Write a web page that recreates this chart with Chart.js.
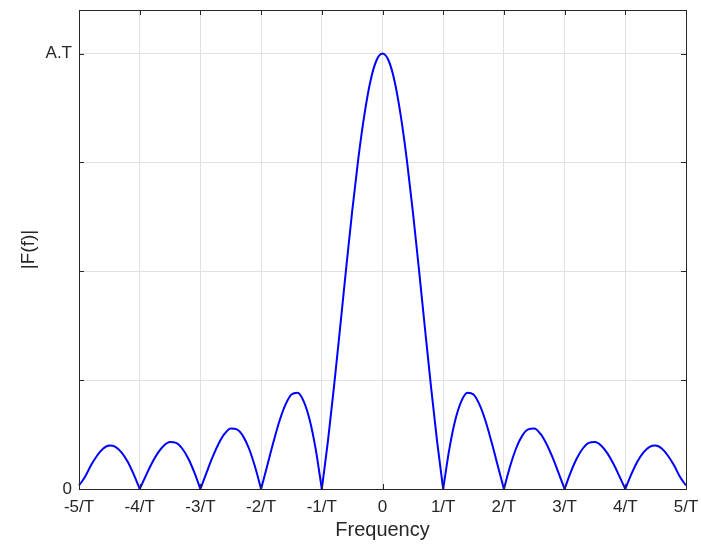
<!DOCTYPE html>
<html lang="en">
<head>
  <meta charset="UTF-8" />
  <title>|F(f)| spectrum</title>
  <script src="https://cdn.jsdelivr.net/npm/chart.js"></script>
  <style>
    html, body { margin: 0; padding: 0; background: #fff; }
    canvas { display: block; }
  </style>
</head>
<body>
  <canvas id="spectrumChart" width="701" height="551"></canvas>

  <script>
    // frequency in units of 1/T
    const freq = [
      -5.0, -4.9, -4.8, -4.7, -4.6, -4.5, -4.4, -4.3, -4.2, -4.1,
      -4.0, -3.9, -3.8, -3.7, -3.6, -3.5, -3.4, -3.3, -3.2, -3.1,
      -3.0, -2.9, -2.8, -2.7, -2.6, -2.5, -2.4, -2.3, -2.2, -2.1,
      -2.0, -1.9, -1.8, -1.7, -1.6, -1.5, -1.4, -1.3, -1.2, -1.1,
      -1.0, -0.9, -0.8, -0.7, -0.6, -0.5, -0.4, -0.3, -0.2, -0.1,
      0.0,
      0.1, 0.2, 0.3, 0.4, 0.5, 0.6, 0.7, 0.8, 0.9, 1.0,
      1.1, 1.2, 1.3, 1.4, 1.5, 1.6, 1.7, 1.8, 1.9, 2.0,
      2.1, 2.2, 2.3, 2.4, 2.5, 2.6, 2.7, 2.8, 2.9, 3.0,
      3.1, 3.2, 3.3, 3.4, 3.5, 3.6, 3.7, 3.8, 3.9, 4.0,
      4.1, 4.2, 4.3, 4.4, 4.5, 4.6, 4.7, 4.8, 4.9, 5.0
    ];

    // |F(f)| in units of A.T
    const magnitude = [
      0.008, 0.028, 0.055, 0.077, 0.093, 0.100, 0.097, 0.084, 0.063, 0.034,
      0.000, 0.030, 0.059, 0.083, 0.100, 0.108, 0.106, 0.093, 0.070, 0.038,
      0.000, 0.037, 0.073, 0.104, 0.127, 0.139, 0.137, 0.122, 0.093, 0.051,
      0.000, 0.053, 0.106, 0.155, 0.193, 0.217, 0.221, 0.202, 0.159, 0.091,
      0.000, 0.109, 0.234, 0.368, 0.505, 0.637, 0.757, 0.858, 0.936, 0.984,
      1.000,
      0.984, 0.936, 0.858, 0.757, 0.637, 0.505, 0.368, 0.234, 0.109, 0.000,
      0.091, 0.159, 0.202, 0.221, 0.217, 0.193, 0.155, 0.106, 0.053, 0.000,
      0.051, 0.093, 0.122, 0.137, 0.139, 0.127, 0.104, 0.073, 0.037, 0.000,
      0.038, 0.070, 0.093, 0.106, 0.108, 0.100, 0.083, 0.059, 0.030, 0.000,
      0.034, 0.063, 0.084, 0.097, 0.100, 0.093, 0.077, 0.055, 0.028, 0.008
    ];

    const xTicks = [-5, -4, -3, -2, -1, 0, 1, 2, 3, 4, 5];
    const yTicks = [0, 0.25, 0.5, 0.75, 1];
    const yTickLabels = { 0: "0", 1: "A.T" };

    const axisColor = "#262626";
    const fontFamily = "'Liberation Sans', Arial, sans-serif";

    // split the curve at its zeros so each lobe is smoothed on its own
    // and the cusps at n/T stay sharp
    const lobes = [];
    let current = [];
    freq.forEach((f, i) => {
      current.push({ x: f, y: magnitude[i] });
      if (magnitude[i] === 0 && current.length > 1) {
        lobes.push(current);
        current = [{ x: f, y: 0 }];
      }
    });
    if (current.length > 1) lobes.push(current);

    // MATLAB-style box with inward ticks on all four sides
    const boxPlugin = {
      id: "box",
      afterDatasetsDraw(chart) {
        const { ctx, chartArea: a, scales } = chart;
        const len = 5;
        ctx.save();
        ctx.strokeStyle = axisColor;
        ctx.lineWidth = 1;
        ctx.beginPath();
        xTicks.forEach(v => {
          const px = Math.round(scales.x.getPixelForValue(v)) + 0.5;
          ctx.moveTo(px, a.bottom); ctx.lineTo(px, a.bottom - len);
          ctx.moveTo(px, a.top); ctx.lineTo(px, a.top + len);
        });
        yTicks.forEach(v => {
          const py = Math.round(scales.y.getPixelForValue(v)) + 0.5;
          ctx.moveTo(a.left, py); ctx.lineTo(a.left + len, py);
          ctx.moveTo(a.right, py); ctx.lineTo(a.right - len, py);
        });
        ctx.stroke();
        ctx.strokeRect(Math.round(a.left) + 0.5, Math.round(a.top) + 0.5,
          Math.round(a.right - a.left), Math.round(a.bottom - a.top));
        ctx.restore();
      }
    };

    const noPad = s => {
      s.paddingTop = 0; s.paddingBottom = 0;
      s.paddingLeft = 0; s.paddingRight = 0;
    };

    new Chart(document.getElementById("spectrumChart"), {
      type: "line",
      data: {
        datasets: lobes.map(pts => ({
          data: pts,
          borderColor: "#0000ff",
          borderWidth: 2,
          pointRadius: 0,
          cubicInterpolationMode: "monotone",
          fill: false
        }))
      },
      options: {
        responsive: false,
        animation: false,
        clip: false,
        layout: { padding: { top: 10, right: 15, left: 0, bottom: 0 } },
        plugins: { legend: { display: false }, tooltip: { enabled: false } },
        scales: {
          x: {
            type: "linear",
            min: -5,
            max: 5,
            afterFit: s => { s.height = 62; noPad(s); },
            afterBuildTicks: s => { s.ticks = xTicks.map(v => ({ value: v })); },
            grid: { color: "#e0e0e0", drawTicks: false },
            border: { display: false },
            ticks: {
              padding: 8,
              color: axisColor,
              font: { family: fontFamily, size: 17 },
              maxRotation: 0,
              callback: v => (v === 0 ? "0" : v + "/T")
            },
            title: {
              display: true,
              text: "Frequency",
              color: axisColor,
              font: { family: fontFamily, size: 20 },
              padding: { top: 0, bottom: 9 }
            }
          },
          y: {
            min: 0,
            max: 1.1,
            afterFit: s => { s.width = 79; noPad(s); },
            afterBuildTicks: s => { s.ticks = yTicks.map(v => ({ value: v })); },
            grid: { color: "#e0e0e0", drawTicks: false },
            border: { display: false },
            ticks: {
              padding: 7,
              color: axisColor,
              font: { family: fontFamily, size: 17 },
              callback: v => yTickLabels[v] || ""
            },
            title: {
              display: true,
              text: "|F(f)|",
              color: axisColor,
              font: { family: fontFamily, size: 19 },
              padding: { top: 17, bottom: 0 }
            }
          }
        }
      },
      plugins: [boxPlugin]
    });
  </script>
</body>
</html>
